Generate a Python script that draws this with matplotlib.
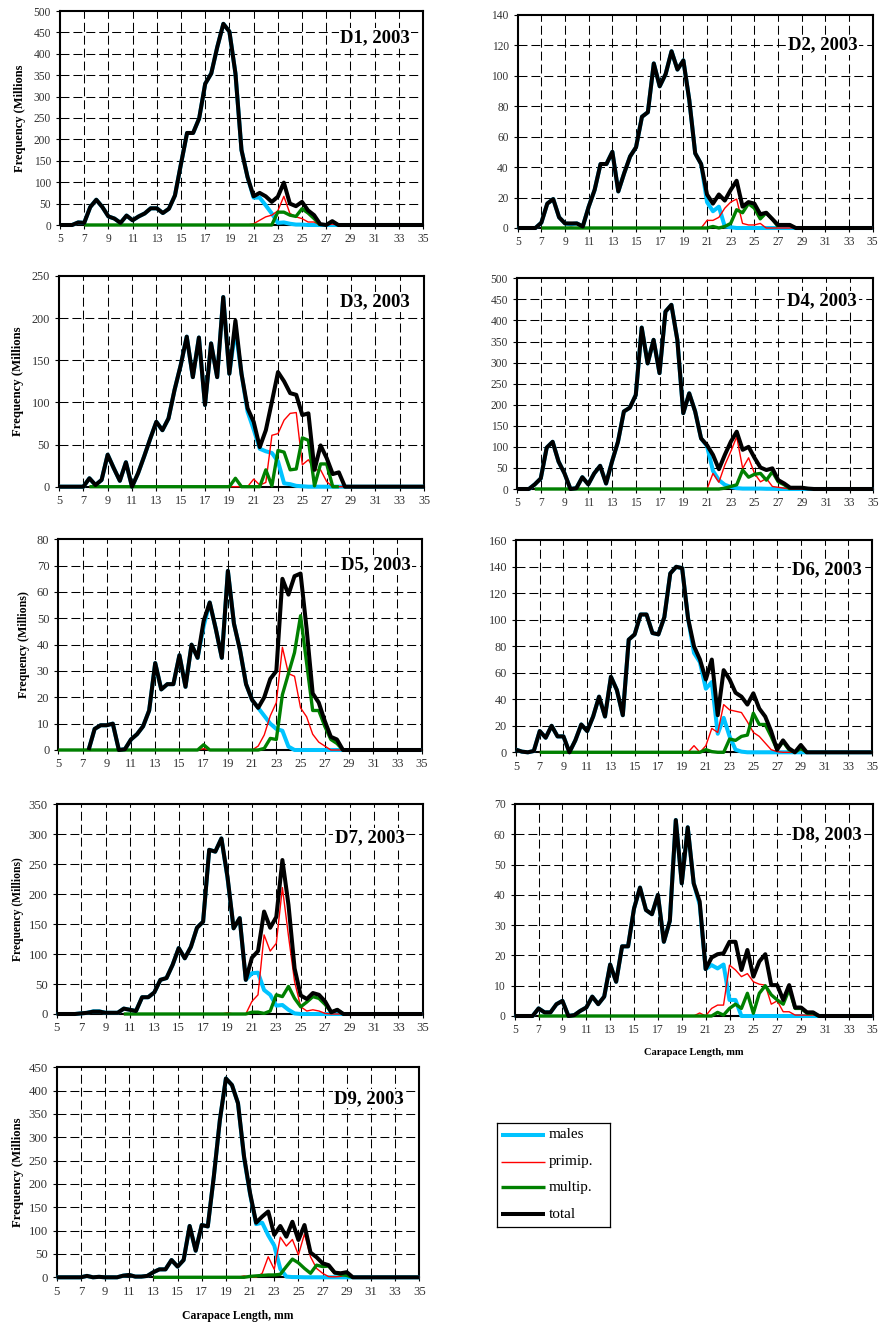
import numpy as np
import matplotlib
matplotlib.use("Agg")
import matplotlib.pyplot as plt
from matplotlib.lines import Line2D

plt.rcParams['font.family'] = ['Liberation Serif', 'DejaVu Serif']

n = None  # size class not plotted for that series

# carapace-length classes, mm (0.5 mm steps)
size_mm = np.arange(5.0, 35.01, 0.5)

# ---------------- D1 ----------------
d1_total = [0, 0, 0, 6, 5, 42, 59, 42, 20, 15,
            5, 22, 11, 20, 27, 39, 39, 28, 38, 69,
            143, 215, 215, 249, 330, 354, 416, 470, 452, 354,
            175, 112, 67, 75, 67, 54, 66, 99, 50, 44,
            54, 34, 23, 2, 0, 9, 0, 0, 0, 0,
            0, 0, 0, 0, 0, 0, 0, 0, 0, 0,
            0]
d1_males = [0, 0, 0, 6, 5, 42, 59, 42, 20, 15,
            5, 22, 11, 20, 27, 39, 39, 28, 38, 69,
            143, 215, 215, 249, 330, 354, 416, 470, 452, 354,
            175, 112, 64, 64, 46, 27, 5, 6, 3, 1,
            1, 0, 0, 0, 0, 0, 0, 0, 0, 0,
            0, 0, 0, 0, 0, 0, 0, 0, 0, 0,
            0]
d1_primip = [n, n, n, n, 0, 0, 0, 0, 0, 0,
             0, 0, 0, 0, 0, 0, 0, 0, 0, 0,
             0, 0, 0, 0, 0, 0, 0, 0, 0, 0,
             0, 0, 3, 11, 19, 23, 33, 67, 27, 19,
             15, 7, 7, 0, 0, 2, 0, 0, 0, 0,
             0, 0, 0, 0, 0, 0, 0, 0, 0, 0,
             0]
d1_multip = [n, n, n, n, 0, 0, 0, 0, 0, 0,
             0, 0, 0, 0, 0, 0, 0, 0, 0, 0,
             0, 0, 0, 0, 0, 0, 0, 0, 0, 0,
             0, 0, 0, 0, 0, 0, 30, 30, 23, 20,
             38, 28, 15, 0, n, n, n, n, n, n,
             n, n, n, n, n, n, n, n, n, n,
             n]

# ---------------- D2 ----------------
d2_total = [0, 0, 0, 0, 3.5, 16, 19, 7, 3, 3,
            3, 1, 14, 25, 42, 42, 50, 24, 36, 47,
            53, 73, 76, 108, 93, 101, 116, 104, 110, 84,
            49, 42, 22, 16, 22, 18, 25, 31, 14, 17,
            16, 9, 10, 6, 2, 2, 2, 0, 0, 0,
            0, 0, 0, 0, 0, 0, 0, 0, 0, 0,
            0]
d2_males = [0, 0, 0, 0, 3.5, 16, 19, 7, 3, 2.5,
            3, 1, 14, 25, 42, 42, 50, 24, 36, 47,
            53, 73, 76, 108, 93, 101, 116, 104, 110, 84,
            49, 42, 17, 11, 14, 1, 0.5, 0, 0, 0,
            0, 0, 0, 0, 0, 0, 0, 0, 0, 0,
            0, 0, 0, 0, 0, 0, 0, 0, 0, 0,
            0]
d2_primip = [n, n, n, n, 0, 0, 0, 0, 0, 0.5,
             0, 0, 0, 0, 0, 0, 0, 0, 0, 0,
             0, 0, 0, 0, 0, 0, 0, 0, 0, 0,
             0, 0, 5, 5, 7, 13, 17, 19, 3, 2,
             2, 3, 0, 0, 0, 0, 0, 0, 0, 0,
             0, 0, 0, 0, 0, 0, 0, 0, 0, 0,
             0]
d2_multip = [n, n, n, n, 0, 0, 0, 0, 0, 0,
             0, 0, 0, 0, 0, 0, 0, 0, 0, 0,
             0, 0, 0, 0, 0, 0, 0, 0, 0, 0,
             0, 0, 0, 1, 0, 1, 3, 12, 10, 16,
             13, 6, 10, 6, 1, n, n, n, n, n,
             n, n, n, n, n, n, n, n, n, n,
             n]

# ---------------- D3 ----------------
d3_total = [0, 0, 0, 0, 0, 10, 2, 8, 38, 22,
            7, 29, 0, 16, 36, 57, 77, 67, 81, 115,
            144, 178, 130, 177, 97, 170, 130, 225, 134, 197,
            134, 93, 77, 47, 67, 101, 136, 125, 111, 109,
            85, 87, 20, 49, 34, 15, 17, 0, 0, 0,
            0, 0, 0, 0, 0, 0, 0, 0, 0, 0,
            0]
d3_males = [0, 0, 0, 0, 0, 10, 2, 8, 38, 22,
            7, 29, 0, 16, 36, 57, 77, 67, 81, 115,
            144, 178, 130, 177, 97, 170, 130, 225, 134, 187,
            134, 89, 68, 45, 42, 40, 30, 4, 3, 1,
            0.5, 0, 0, 0, 0, 0, 0, 0, 0, 0,
            0, 0, 0, 0, 0, 0, 0, 0, 0, 0,
            0]
d3_primip = [n, n, n, n, n, 0, 0, 0, 0, 0,
             0, 0, 0, 0, 0, 0, 0, 0, 0, 0,
             0, 0, 0, 0, 0, 0, 0, 0, 0, 0,
             0, 0, 9, 2, 5, 61, 63, 79, 87, 88,
             26, 32, 20, 20, 6, 0, 0, 0, 0, 0,
             0, 0, 0, 0, 0, 0, 0, 0, 0, 0,
             0]
d3_multip = [n, n, n, n, n, 0, 0, 0, 0, 0,
             0, 0, 0, 0, 0, 0, 0, 0, 0, 0,
             0, 0, 0, 0, 0, 0, 0, 0, 0, 10,
             0, 0, 0, 0, 20, 1, 43, 41, 20, 21,
             58, 55, 1, 27, 27, 0, 0, n, n, n,
             n, n, n, n, n, n, n, n, n, n,
             n]

# ---------------- D4 ----------------
d4_total = [0, 0, 0, 11, 25, 98, 112, 65, 37, 0,
            2, 28, 11, 37, 55, 13, 65, 112, 184, 193,
            223, 383, 298, 354, 275, 421, 437, 354, 180, 227,
            184, 120, 104, 81, 47, 81, 112, 136, 93, 100,
            74, 51, 45, 49, 21, 13, 3, 3, 3, 1,
            0, 0, 0, 0, 0, 0, 0, 0, 0, 0,
            0]
d4_males = [0, 0, 0, 11, 25, 98, 112, 65, 37, 0,
            2, 28, 11, 37, 55, 13, 65, 112, 184, 193,
            223, 383, 298, 354, 275, 421, 437, 354, 180, 227,
            184, 120, 102, 43, 21, 10, 5, 2, 1, 1,
            1, 1, 0.5, 0.5, 0, 0, 0, 0, 0, 0,
            0, 0, 0, 0, 0, 0, 0, 0, 0, 0,
            0]
d4_primip = [n, n, n, 0, 0, 0, 0, 0, 0, 0,
             0, 0, 0, 0, 0, 0, 0, 0, 0, 0,
             0, 0, 0, 0, 0, 0, 0, 0, 0, 0,
             0, 0, 0, 37, 16, 57, 89, 124, 49, 74,
             37, 17, 25, 6, 4, 2, 0, 0, 0, 0,
             0, 0, 0, 0, 0, 0, 0, 0, 0, 0,
             0]
d4_multip = [n, n, n, 0, 0, 0, 0, 0, 0, 0,
             0, 0, 0, 0, 0, 0, 0, 0, 0, 0,
             0, 0, 0, 0, 0, 0, 0, 0, 0, 0,
             0, 0, 0, 0, 0, 2, 6, 10, 45, 28,
             35, 37, 21, 41, 17, 10, 0, n, n, n,
             n, n, n, n, n, n, n, n, n, n,
             n]

# ---------------- D5 ----------------
d5_total = [n, n, n, n, n, 0, 8, 9.4, 9.4, 10,
            0, 0.3, 4, 6, 9, 15, 33, 23, 25, 25,
            36, 24, 40, 35, 49, 56, 46, 35, 68, 48,
            38, 25, 19, 16, 20, 27, 30, 65, 59, 66,
            67, 46, 21.5, 18, 11, 5, 4, 0, 0, 0,
            0, 0, 0, 0, 0, 0, 0, 0, 0, 0,
            0]
d5_males = [n, n, n, n, n, 0, 8, 9.4, 9.4, 10,
            0, 0.3, 4, 6, 9, 15, 33, 23, 25, 25,
            36, 24, 40, 35, 47, 56, 46, 35, 68, 48,
            38, 25, 19, 16, 13, 10, 8, 7.3, 1.3, 0,
            0, 0, 0, 0, 0, 0, 0, 0, 0, 0,
            0, 0, 0, 0, 0, 0, 0, 0, 0, 0,
            0]
d5_primip = [0, 0, 0, 0, 0, 0, 0, 0, 0, 0,
             0, 0, 0, 0, 0, 0, 0, 0, 0, 0,
             0, 0, 0, 0, 0.5, 0, 0, 0, 0, 0,
             0, 0, 0, 1.5, 5.7, 13, 18, 39, 29, 28,
             16, 12.6, 6, 3, 1.5, 0, 0, 0, 0, 0,
             0, 0, 0, 0, 0, 0, 0, 0, 0, 0,
             0]
d5_multip = [0, 0, 0, 0, 0, 0, 0, 0, 0, 0,
             0, 0, 0, 0, 0, 0, 0, 0, 0, 0,
             0, 0, 0, 0, 2, 0, 0, 0, 0, 0,
             0, 0, 0, 0, 0.6, 4.4, 4, 21, 29, 37,
             51, 33, 15, 15, 9, 4, 2.5, 0, n, n,
             n, n, n, n, n, n, n, n, n, n,
             n]

# ---------------- D6 ----------------
d6_total = [2, 0.5, 0, 1, 16, 11, 20, 12, 12, 0,
            9, 21, 16, 27, 42, 27, 57, 47, 28, 85,
            89, 104, 104, 90, 89, 102, 135, 140, 139, 101,
            80, 70, 55, 70, 28, 62, 55, 45, 42, 36,
            44.5, 33, 27, 16, 2, 9, 3, 0, 5.5, 0,
            0, 0, 0, 0, 0, 0, 0, 0, 0, 0,
            0]
d6_males = [2, 0.5, 0, 1, 16, 11, 20, 12, 12, 0,
            9, 21, 16, 27, 42, 27, 57, 47, 28, 85,
            89, 104, 104, 90, 89, 102, 135, 140, 139, 101,
            75, 68, 48, 53, 14, 26, 12, 2, 0.5, 0,
            0, 0, 0, 0, 0, 0, 0, 0, 0, 0,
            0, 0, 0, 0, 0, 0, 0, 0, 0, 0,
            0]
d6_primip = [n, n, n, n, 0, 0, 0, 0, 0, 0,
             0, 0, 0, 0, 0, 0, 0, 0, 0, 0,
             0, 0, 0, 0, 0, 0, 0, 0, 0, 0,
             5, 0, 5, 18, 15, 36, 32, 31, 30, 23,
             15, 12, 7, 2, 0.5, 0, 0, 0, 2, 0,
             0, 0, 0, 0, 0, 0, 0, 0, 0, 0,
             0]
d6_multip = [n, n, n, n, 0, 0, 0, 0, 0, 0,
             0, 0, 0, 0, 0, 0, 0, 0, 0, 0,
             0, 0, 0, 0, 0, 0, 0, 0, 0, 0,
             0, 0, 2, 0.5, 0, 0, 10, 9, 12, 13,
             29.5, 21, 21, 12, 2, 8, 2, 0, 3, 0,
             n, n, n, n, n, n, n, n, n, n,
             n]

# ---------------- D7 ----------------
d7_total = [0, 0, 0, 0, 1, 2, 4, 4, 2, 2,
            2, 9, 7, 5, 28, 28, 36, 57, 60, 82,
            110, 93, 112, 144, 154, 274, 271, 293, 229, 143,
            160, 57, 94, 105, 171, 144, 162, 257, 182, 76,
            31, 25, 35, 32, 21, 3, 7, 0, 0, 0,
            0, 0, 0, 0, 0, 0, 0, 0, 0, 0,
            0]
d7_males = [0, 0, 0, 0, 1, 2, 4.5, 4.5, 2, 2,
            2, 9, 7, 5, 28, 28, 36, 57, 60, 82,
            110, 93, 112, 144, 154, 274, 271, 293, 227, 143,
            160, 57, 68, 69, 40, 32, 14, 15, 7, 1,
            0, 0, 0, 0, 0, 0, 0, 0, 0, 0,
            0, 0, 0, 0, 0, 0, 0, 0, 0, 0,
            0]
d7_primip = [n, n, n, n, n, n, n, n, n, n,
             n, 0, 0, 0, 0, 0, 0, 0, 0, 0,
             0, 0, 0, 0, 0, 0, 0, 0, 2, 0,
             0, 0, 21, 32, 132, 105, 118, 211, 130, 54,
             12, 5, 7, 5, 1, 0, 0, 0, 0, 0,
             0, 0, 0, 0, 0, 0, 0, 0, 0, 0,
             0]
d7_multip = [n, n, n, n, n, n, n, n, n, n,
             n, 0, 0, 0, 0, 0, 0, 0, 0, 0,
             0, 0, 0, 0, 0, 0, 0, 0, 0, 0,
             0, 0, 3, 3, 1, 5, 32, 29, 46, 26,
             12, 20, 29, 26, 16, 3, 7, 0, n, n,
             n, n, n, n, n, n, n, n, n, n,
             n]

# ---------------- D8 ----------------
d8_total = [0, 0, 0, 0, 2.5, 1.2, 1.2, 3.9, 5, 0,
            0.3, 1.7, 2.8, 6.4, 3.9, 6.4, 17, 11.3, 23, 23,
            35.5, 42.4, 35, 33.6, 40, 24.5, 31.4, 64.7, 43.8, 62.3,
            43.8, 37.8, 15.5, 19.3, 20.4, 20.7, 24.5, 24.5, 15.2, 21.8,
            13, 18, 20.4, 10.2, 10.2, 5.3, 10.2, 2.8, 2.8, 1.2,
            1.2, 0, 0, 0, 0, 0, 0, 0, 0, 0,
            0]
d8_males = [0, 0, 0, 0, 2.5, 1.2, 1.2, 3.9, 5, 0,
            0.3, 1.7, 2.8, 6.4, 3.9, 6.4, 17, 11.3, 23, 23,
            35.5, 42.4, 35, 33.6, 40, 24.5, 31.4, 64.7, 43.8, 62.3,
            43.8, 36.8, 15.5, 16.8, 15.7, 17, 5.3, 5.3, 0, 0,
            0, 0, 0, 0, 0, 0, 0, 0, 0, 0,
            0, 0, 0, 0, 0, 0, 0, 0, 0, 0,
            0]
d8_primip = [n, n, n, n, 0, 0, 0, 0, 0, 0,
             0, 0, 0, 0, 0, 0, 0, 0, 0, 0,
             0, 0, 0, 0, 0, 0, 0, 0, 0, 0,
             0, 1, 0, 2.5, 3.6, 3.6, 16.8, 15.2, 13, 14,
             11.3, 10.5, 10.2, 3.9, 5, 1.4, 1.4, 0.3, 0.3, 0.3,
             0.3, 0, 0, 0, 0, 0, 0, 0, 0, 0,
             0]
d8_multip = [n, n, n, n, 0, 0, 0, 0, 0, 0,
             0, 0, 0, 0, 0, 0, 0, 0, 0, 0,
             0, 0, 0, 0, 0, 0, 0, 0, 0, 0,
             0, 0, 0, 0, 1.2, 0.3, 2.5, 3.9, 2.5, 7.5,
             0.9, 7.5, 10, 7, 5.3, 3.9, 8.8, 2.5, 2.5, 0.9,
             0.9, 0, n, n, n, n, n, n, n, n,
             n]

# ---------------- D9 ----------------
d9_total = [0, 0, 0, 0, 0, 3, 0, 1, 0, 0,
            0, 3.5, 5, 1.5, 1.5, 3, 11, 17, 17, 37,
            23, 37, 110, 57, 112, 109, 216, 337, 426, 412,
            373, 259, 180, 117, 130, 141, 91, 110, 87, 119,
            80, 112, 53, 43, 30, 26, 10, 8.6, 11, 0,
            0, 0, 0, 0, 0, 0, 0, 0, 0, 0,
            0]
d9_males = [0, 0, 0, 0, 0, 3, 0, 1, 0, 0,
            0, 3.5, 5, 1.5, 1.5, 3, 11, 17, 17, 37,
            23, 37, 110, 57, 112, 109, 216, 337, 426, 412,
            373, 256, 178, 114, 117, 90, 68, 18, 1.5, 0.5,
            0.5, 0, 0, 0, 0, 0, 0, 0, 0, 0,
            0, 0, 0, 0, 0, 0, 0, 0, 0, 0,
            0]
d9_primip = [n, n, n, n, n, n, n, n, n, n,
             n, n, n, n, n, n, 0, 0, 0, 0,
             0, 0, 0, 0, 0, 0, 0, 0, 0, 0,
             0, 3, 0, 0, 8.6, 44, 17, 86, 67, 81,
             48, 93, 44, 19, 8.6, 1.4, 1, 2, 5, 0,
             0, 0, 0, 0, 0, 0, 0, 0, 0, 0,
             0]
d9_multip = [n, n, n, n, n, n, n, n, n, n,
             n, n, n, n, n, n, 0, 0, 0, 0,
             0, 0, 0, 0, 0, 0, 0, 0, 0, 0,
             0, 0, 2, 3, 4, 5, 5, 6.4, 23, 39,
             31, 19, 8.6, 26, 23, 24, 10, 6, 4, 0,
             n, n, n, n, n, n, n, n, n, n,
             n]

panel_names = ["D1, 2003", "D2, 2003", "D3, 2003", "D4, 2003", "D5, 2003",
               "D6, 2003", "D7, 2003", "D8, 2003", "D9, 2003"]
series_labels = ["males", "primip.", "multip.", "total"]

# ---- layout (pixel boxes: left, right, top, bottom) and per-panel styling ----
W, H = 880, 1327
layout = [
    dict(box=(60, 423, 11, 225), ymax=500, ystep=50, tag=(0.868, 0.874), ts=8.3,
         ylabel="Frequency (Millions", ylx=-0.094, yls=9.0, xlabel=None),
    dict(box=(517.7, 872.7, 14.7, 228), ymax=140, ystep=20, tag=(0.859, 0.858), ts=8.3,
         ylabel=None, xlabel=None),
    dict(box=(59, 424, 276, 486.7), ymax=250, ystep=50, tag=(0.865, 0.878), ts=8.8,
         ylabel="Frequency (Millions", ylx=-0.096, yls=9.2, xlabel=None),
    dict(box=(517, 873.3, 278.3, 489), ymax=500, ystep=50, tag=(0.857, 0.892), ts=8.3,
         ylabel=None, xlabel=None),
    dict(box=(58.3, 421.7, 539.3, 750), ymax=80, ystep=10, tag=(0.874, 0.878), ts=9.0,
         ylabel="Frequency (Millions)", ylx=-0.078, yls=8.6, xlabel=None),
    dict(box=(516, 872, 540.3, 752.3), ymax=160, ystep=20, tag=(0.874, 0.863), ts=8.8,
         ylabel=None, xlabel=None),
    dict(box=(56.7, 422.7, 804.3, 1014), ymax=350, ystep=50, tag=(0.855, 0.841), ts=9.2,
         ylabel="Frequency (Millions)", ylx=-0.089, yls=8.4, xlabel=None),
    dict(box=(514.7, 872.7, 804, 1016), ymax=70, ystep=10, tag=(0.872, 0.854), ts=8.4,
         ylabel=None, xlabel="Carapace Length, mm", xly=-0.153, xls=7.5),
    dict(box=(56.7, 419.3, 1067.3, 1277.3), ymax=450, ystep=50, tag=(0.861, 0.852), ts=9.2,
         ylabel="Frequency (Millions", ylx=-0.090, yls=9.2,
         xlabel="Carapace Length, mm", xly=-0.156, xls=8.4),
]

data = [
    (d1_males, d1_primip, d1_multip, d1_total),
    (d2_males, d2_primip, d2_multip, d2_total),
    (d3_males, d3_primip, d3_multip, d3_total),
    (d4_males, d4_primip, d4_multip, d4_total),
    (d5_males, d5_primip, d5_multip, d5_total),
    (d6_males, d6_primip, d6_multip, d6_total),
    (d7_males, d7_primip, d7_multip, d7_total),
    (d8_males, d8_primip, d8_multip, d8_total),
    (d9_males, d9_primip, d9_multip, d9_total),
]

styles = [
    dict(color="#00C3FF", lw=2.9, zorder=3),   # males
    dict(color="#FF0000", lw=1.0, zorder=4),   # primip.
    dict(color="#008000", lw=2.4, zorder=5),   # multip.
    dict(color="#000000", lw=2.9, zorder=6),   # total
]

grid_dash = (0, (8.6, 3.8))
tick_color = "#333333"

fig = plt.figure(figsize=(W / 100, H / 100), dpi=100)
fig.patch.set_facecolor("white")

for name, lay, series in zip(panel_names, layout, data):
    xl, xr, yt, yb = lay["box"]
    ax = fig.add_axes([xl / W, 1 - yb / H, (xr - xl) / W, (yb - yt) / H])
    ymax, ystep = lay["ymax"], lay["ystep"]
    ax.set_xlim(5, 35)
    ax.set_ylim(0, ymax)
    xt = np.arange(5, 36, 2)
    yt_vals = np.arange(0, ymax + 0.1, ystep)
    ax.set_xticks(xt)
    ax.set_yticks(yt_vals)
    ax.set_xticklabels([str(v) for v in xt])
    ax.set_yticklabels([str(int(v)) for v in yt_vals])

    # dashed grid
    for xv in xt[1:-1]:
        ax.axvline(xv, color="black", lw=0.75, linestyle=grid_dash, zorder=1)
    for yv in yt_vals[1:-1]:
        ax.axhline(yv, color="black", lw=0.75, linestyle=grid_dash, zorder=1)

    for vals, st in zip(series, styles):
        y = np.array(vals, dtype=float)
        ax.plot(size_mm, y, color=st["color"], lw=st["lw"], zorder=st["zorder"],
                solid_joinstyle="round", solid_capstyle="butt", clip_on=False)

    for sp in ax.spines.values():
        sp.set_linewidth(1.5)
        sp.set_color("black")
        sp.set_zorder(2.5)

    ax.tick_params(axis="both", direction="out", length=3, width=0.8,
                   labelsize=lay["ts"], colors="black", labelcolor=tick_color)
    ax.tick_params(axis="x", pad=3.0)
    ax.tick_params(axis="y", pad=3.5)

    ax.text(lay["tag"][0], lay["tag"][1], name, transform=ax.transAxes,
            ha="center", va="center", fontsize=13.5, fontweight="bold",
            bbox=dict(facecolor="white", edgecolor="none", pad=1.0), zorder=7)

    if lay.get("ylabel"):
        ax.set_ylabel(lay["ylabel"], fontsize=lay["yls"], fontweight="bold")
        ax.yaxis.set_label_coords(lay["ylx"], 0.5)
    if lay.get("xlabel"):
        ax.set_xlabel(lay["xlabel"], fontsize=lay["xls"], fontweight="bold")
        ax.xaxis.set_label_coords(0.5, lay["xly"])

# legend box
lx0, lx1, ly0, ly1 = 497.3, 610, 1122.7, 1227.3
lax = fig.add_axes([lx0 / W, 1 - ly1 / H, (lx1 - lx0) / W, (ly1 - ly0) / H])
lax.set_xlim(0, lx1 - lx0)
lax.set_ylim(ly1 - ly0, 0)
lax.set_xticks([])
lax.set_yticks([])
for sp in lax.spines.values():
    sp.set_linewidth(0.9)
    sp.set_color("black")
row_y = [12.3, 39.0, 64.6, 91.3]
for ry, lab, st in zip(row_y, series_labels, styles):
    lax.add_line(Line2D([3.7, 47.7], [ry, ry], color=st["color"], lw=st["lw"],
                        solid_capstyle="butt"))
    lax.text(51, ry, lab, ha="left", va="center", fontsize=11, color="black")

fig.savefig("out.png", dpi=100, facecolor="white")
